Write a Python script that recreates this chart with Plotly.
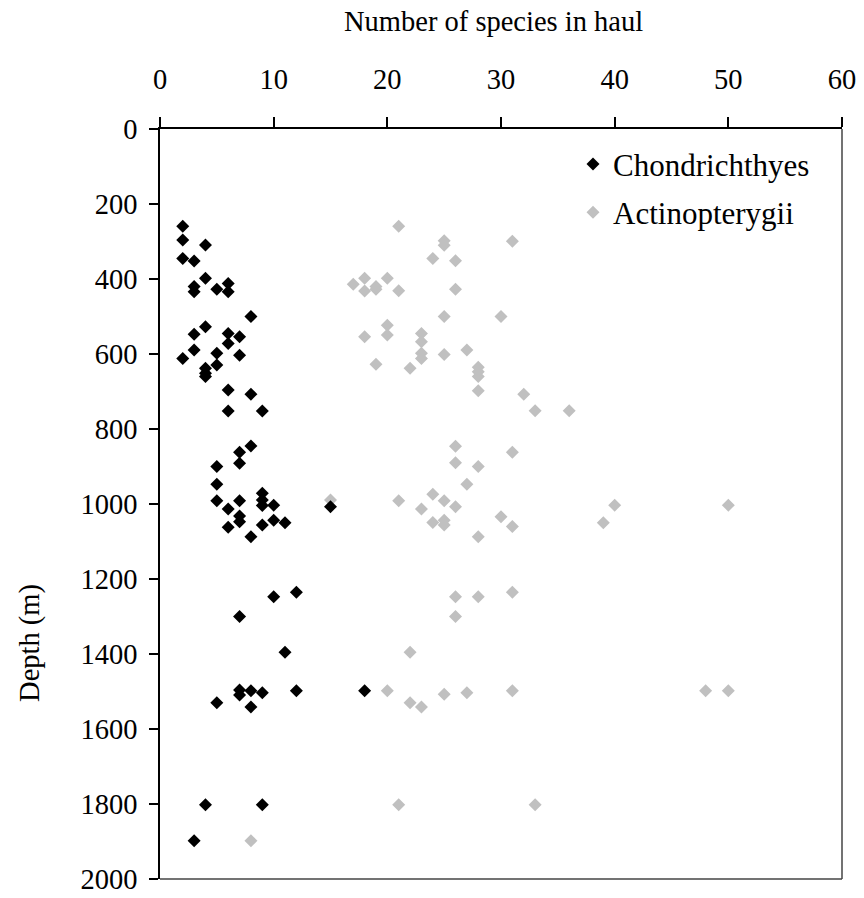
import plotly.graph_objects as go

# Chondrichthyes: number of species in haul vs depth (m)
chond_species = [2, 2, 4, 2, 3, 4, 3, 3, 5, 6, 6, 8, 4, 3, 6, 6, 7, 3, 2, 5, 7, 5, 4, 4, 4,
                 6, 8, 6, 9, 8, 7, 7, 5, 5, 5, 7, 9, 9, 9, 10, 6, 7, 7, 6, 9, 10, 11, 8, 15,
                 12, 10, 7, 11, 7, 7, 8, 9, 12, 5, 8, 18, 4, 9, 3]
chond_depth = [259, 296, 309, 345, 352, 398, 420, 434, 427, 412, 434, 500, 527, 547, 545, 572,
               554, 589, 612, 598, 603, 629, 638, 651, 660, 696, 707, 752, 752, 845, 862, 891,
               900, 947, 991, 991, 971, 989, 1004, 1003, 1013, 1032, 1047, 1062, 1056, 1043,
               1050, 1087, 1007, 1235, 1247, 1300, 1395, 1496, 1509, 1498, 1503, 1498, 1530,
               1541, 1498, 1802, 1802, 1898]

# Actinopterygii
actino_species = [21, 25, 25, 31, 24, 26, 18, 20, 17, 18, 19, 19, 21, 26, 25, 30, 20, 20, 18,
                  23, 23, 23, 23, 25, 27, 19, 22, 28, 28, 28, 28, 32, 33, 36, 26, 31, 26, 28,
                  27, 24, 21, 25, 23, 26, 24, 25, 25, 30, 31, 28, 15, 40, 39, 50, 26, 28, 31,
                  26, 22, 20, 22, 23, 25, 27, 31, 48, 50, 21, 33, 8]
actino_depth = [259, 298, 310, 299, 345, 351, 398, 398, 414, 432, 420, 427, 431, 427, 500, 500,
                523, 549, 554, 545, 567, 598, 612, 601, 589, 627, 638, 635, 647, 660, 698, 707,
                751, 751, 846, 862, 890, 900, 947, 974, 991, 991, 1013, 1007, 1049, 1043, 1056,
                1034, 1060, 1087, 989, 1003, 1050, 1003, 1247, 1247, 1235, 1300, 1395, 1498,
                1530, 1541, 1507, 1503, 1498, 1498, 1498, 1802, 1802, 1898]

x_ticks = [0, 10, 20, 30, 40, 50, 60]
y_ticks = [0, 200, 400, 600, 800, 1000, 1200, 1400, 1600, 1800, 2000]

FONT = "Liberation Serif"
FS = 28.5

fig = go.Figure()
fig.add_trace(go.Scatter(
    x=actino_species, y=actino_depth, mode="markers", name="Actinopterygii",
    legendgroup="a", legendrank=2,
    marker=dict(symbol="diamond", size=10, color="#c0c0c0", line=dict(width=0)),
))
fig.add_trace(go.Scatter(
    x=chond_species, y=chond_depth, mode="markers", name="Chondrichthyes",
    legendgroup="c", legendrank=1,
    marker=dict(symbol="diamond", size=10, color="#000000", line=dict(width=0)),
))

fig.update_layout(
    width=864, height=898,
    margin=dict(l=160, r=22, t=129, b=19),
    paper_bgcolor="white", plot_bgcolor="white",
    font=dict(family=FONT, size=FS, color="black"),
    showlegend=True,
    legend=dict(x=0.6056, y=0.989, xanchor="left", yanchor="top",
                font=dict(family=FONT, size=31, color="black"),
                bgcolor="rgba(0,0,0,0)", tracegroupgap=5, itemwidth=30),
    xaxis=dict(side="top", range=[0, 60], tickvals=x_ticks, ticks="outside", ticklen=10,
               tickwidth=1.5, tickcolor="black", showline=True, linecolor="black", linewidth=1.5,
               showgrid=False, zeroline=False, tickfont=dict(family=FONT, size=FS),
               automargin=False, ticklabelstandoff=17),
    yaxis=dict(range=[2000, 0], tickvals=y_ticks, ticks="outside", ticklen=9, tickwidth=1.5,
               tickcolor="black", showline=True, linecolor="black", linewidth=1.5,
               showgrid=False, zeroline=False, tickfont=dict(family=FONT, size=FS),
               automargin=False, ticklabelstandoff=6),
    shapes=[
        dict(type="line", xref="paper", yref="paper", x0=1, x1=1, y0=0, y1=1,
             line=dict(color="#444444", width=1.5)),
        dict(type="line", xref="paper", yref="paper", x0=0, x1=1, y0=0, y1=0,
             line=dict(color="#444444", width=1.5)),
    ],
    annotations=[
        dict(text="Number of species in haul", xref="paper", yref="paper",
             x=(493 - 160) / 681.7, y=1 + (129 - 22) / 750, xanchor="center", yanchor="middle",
             showarrow=False, font=dict(family=FONT, size=FS)),
        dict(text="Depth (m)", xref="paper", yref="paper", textangle=-90,
             x=(30 - 160) / 681.7, y=(879 - 643) / 750, xanchor="center", yanchor="middle",
             showarrow=False, font=dict(family=FONT, size=FS)),
    ],
)

fig.write_html("out.html")
